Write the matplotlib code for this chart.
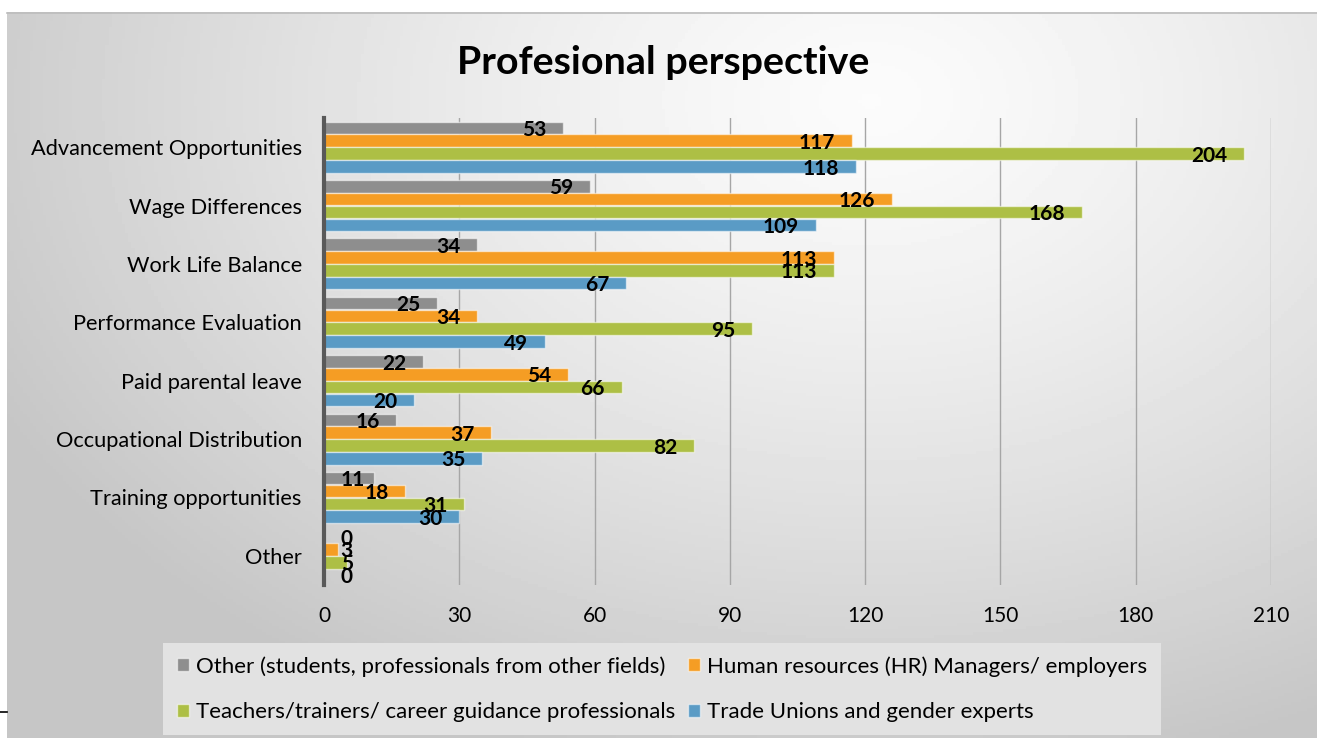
import matplotlib.pyplot as plt
import numpy as np
from matplotlib.lines import Line2D

categories = ['Advancement Opportunities', 'Wage Differences', 'Work Life Balance',
              'Performance Evaluation', 'Paid parental leave', 'Occupational Distribution',
              'Training opportunities', 'Other']
series_names = ['Other (students, professionals from other fields)',
                'Human resources (HR) Managers/ employers',
                'Teachers/trainers/ career guidance professionals',
                'Trade Unions and gender experts']
other_vals = [53, 59, 34, 25, 22, 16, 11, 0]
hr_vals = [117, 126, 113, 34, 54, 37, 18, 3]
teachers_vals = [204, 168, 113, 95, 66, 82, 31, 5]
unions_vals = [118, 109, 67, 49, 20, 35, 30, 0]
x_ticks = [0, 30, 60, 90, 120, 150, 180, 210]

colors = ['#8e8e8e', '#f59d24', '#adbf45', '#5a9bc5']
plt.rcParams['font.family'] = ['Lato', 'DejaVu Sans']

W, H = 1317, 738
fig = plt.figure(figsize=(W / 100, H / 100), dpi=100)
fig.patch.set_facecolor('white')

# radial gradient background of the chart frame
bg = fig.add_axes([7 / W, 0, 1 - 7 / W, 1 - 12 / H])
gx, gy = np.meshgrid(np.linspace(0, 1, 400), np.linspace(0, 1, 240))
r = np.sqrt(((gx - 0.66) / 0.75) ** 2 + ((gy - 0.12) / 0.95) ** 2)
shade = 0.985 - 0.21 * np.clip(r, 0, 1) ** 1.3
bg.imshow(shade, cmap='gray', vmin=0, vmax=1, aspect='auto', extent=[0, 1, 1, 0])
bg.set_axis_off()
fig.add_artist(Line2D([7 / W, 1], [1 - 12.5 / H, 1 - 12.5 / H], color='#bcbcbc', lw=1.2))
fig.add_artist(Line2D([0, 7 / W], [1 - 712 / H, 1 - 712 / H], color='black', lw=1.2))

ax = fig.add_axes([324 / W, 1 - 585 / H, (1271 - 324) / W, (585 - 118) / H])
ax.patch.set_alpha(0)
y = np.arange(len(categories))
offsets = [-0.33, -0.11, 0.11, 0.33]
all_vals = [other_vals, hr_vals, teachers_vals, unions_vals]
bars = []
for vals, off, c, name in zip(all_vals, offsets, colors, series_names):
    b = ax.barh(y + off, vals, height=0.215, color=c, edgecolor=(1, 1, 1, 0.55),
                linewidth=1.0, label=name, zorder=3)
    bars.append(b)

ax.set_xlim(0, 210)
ax.set_ylim(7.5, -0.5)
ax.set_xticks(x_ticks)
ax.set_yticks(y)
ax.set_yticklabels(categories, fontsize=15.7)
ax.tick_params(axis='x', labelsize=15, length=0, pad=15)
ax.tick_params(axis='y', length=0, pad=16)
ax.grid(axis='x', color='#a6a6a6', lw=1.0, zorder=0)
for s in ['top', 'right', 'bottom']:
    ax.spines[s].set_visible(False)
ax.spines['left'].set_color('#595959')
ax.spines['left'].set_linewidth(3)
ax.spines['left'].set_zorder(4)

# data labels: inside end, pushed right when they don't fit
fig.canvas.draw()
renderer = fig.canvas.get_renderer()
axis_px = ax.transData.transform((0, 0))[0]
for vals, off in zip(all_vals, offsets):
    for i, v in enumerate(vals):
        t = ax.annotate(str(v), xy=(v, i + off), xytext=(-12, -1.5), textcoords='offset points',
                        ha='right', va='center', fontsize=15, fontweight='bold', zorder=5)
        bb = t.get_window_extent(renderer)
        if bb.x0 < axis_px + 16:
            t.xy = (0, i + off)
            t.set_position((12, -1.5))
            t.set_ha('left')

fig.text(663 / W, 1 - 62 / H, 'Profesional perspective', ha='center', va='center',
         fontsize=28.4, fontweight='bold')

# matplotlib fills legend columns first; reorder so rows read like the original
order = [0, 2, 1, 3]
handles = [bars[k].patches[0] for k in order]
labels = [series_names[k] for k in order]
leg = fig.legend(handles, labels, loc='center', bbox_to_anchor=(662 / W, 1 - 689 / H),
                 ncol=2, fontsize=16, frameon=True, fancybox=False, handlelength=0.55,
                 handleheight=0.55, handletextpad=0.3, columnspacing=0.6, labelspacing=1.15,
                 borderpad=0.6)
leg.get_frame().set_facecolor('#e2e2e2')
leg.get_frame().set_edgecolor('none')
leg.get_frame().set_alpha(1)

fig.savefig('out.png', dpi=100)
